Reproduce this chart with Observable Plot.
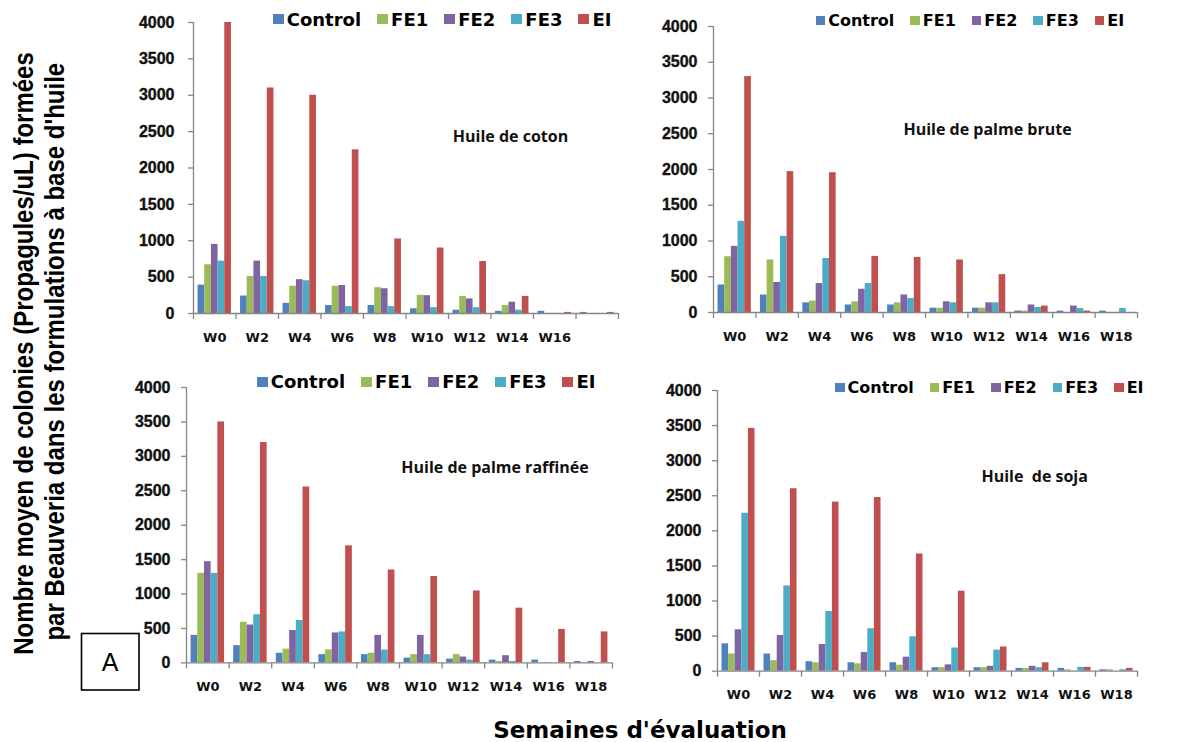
<!DOCTYPE html>
<html lang="fr">
<head>
<meta charset="utf-8">
<script src="https://cdn.jsdelivr.net/npm/d3@7"></script>
<script src="https://cdn.jsdelivr.net/npm/@observablehq/plot@0.6"></script>
<style>
  html, body { margin: 0; padding: 0; background: #fff; }
  #chart { position: relative; width: 1201px; height: 742px; overflow: hidden; background: #fff; }
  #chart svg { position: absolute; }
  .legend { position: absolute; display: flex; align-items: center; gap: 16px;
            font-family: "DejaVu Sans", sans-serif; font-weight: bold; color: #000; white-space: nowrap; }
  .legend .item { display: flex; align-items: center; }
  .legend .swatch { display: inline-block; margin-right: 3px; }
  .note { position: absolute; transform: translate(-50%, -50%); font-family: "Open Sans", sans-serif;
          font-weight: bold; font-size: 16px; color: #111; white-space: pre; }
</style>
</head>
<body>
<div id="chart"></div>
<script>
// Weeks of evaluation and formulations
const weeks = ["W0", "W2", "W4", "W6", "W8", "W10", "W12", "W14", "W16", "W18"];
const series = ["Control", "FE1", "FE2", "FE3", "EI"];
const colors = ["#4F81BD", "#9BBB59", "#8064A2", "#4BACC6", "#C0504D"];
const yTicks = [0, 500, 1000, 1500, 2000, 2500, 3000, 3500, 4000];

// Tick labels shown under each panel
const labelsCoton = ["W0", "W2", "W4", "W6", "W8", "W10", "W12", "W14", "W16", ""];
const labelsFull = ["W0", "W2", "W4", "W6", "W8", "W10", "W12", "W14", "W16", "W18"];

// Huile de coton
const cotonControl = [390, 240, 140, 110, 110, 65, 45, 30, 30, 15];
const cotonFE1 = [670, 510, 375, 375, 355, 250, 235, 110, 0, 0];
const cotonFE2 = [950, 720, 465, 385, 340, 245, 200, 155, 0, 0];
const cotonFE3 = [720, 510, 450, 95, 95, 80, 80, 45, 0, 0];
const cotonEI = [4000, 3100, 3000, 2250, 1025, 900, 715, 235, 15, 15];

// Huile de palme brute
const bruteControl = [385, 245, 135, 105, 105, 60, 60, 20, 20, 20];
const bruteFE1 = [780, 735, 160, 150, 135, 60, 60, 20, 0, 0];
const bruteFE2 = [925, 420, 405, 325, 245, 150, 135, 105, 90, 0];
const bruteFE3 = [1275, 1065, 755, 405, 195, 135, 135, 70, 55, 55];
const bruteEI = [3300, 1970, 1955, 785, 770, 735, 530, 90, 20, 0];

// Huile de palme raffinée
const raffControl = [400, 250, 140, 120, 120, 70, 55, 40, 40, 20];
const raffFE1 = [1300, 590, 200, 190, 140, 120, 120, 20, 0, 0];
const raffFE2 = [1470, 550, 470, 435, 400, 400, 85, 105, 0, 20];
const raffFE3 = [1300, 700, 615, 450, 185, 120, 40, 20, 0, 0];
const raffEI = [3500, 3200, 2555, 1700, 1350, 1255, 1045, 795, 485, 450];

// Huile de soja
const sojaControl = [390, 245, 135, 120, 120, 50, 50, 40, 40, 20];
const sojaFE1 = [245, 150, 120, 105, 85, 50, 50, 40, 20, 20];
const sojaFE2 = [590, 510, 380, 265, 200, 90, 70, 70, 0, 0];
const sojaFE3 = [2250, 1215, 850, 605, 490, 330, 300, 50, 55, 20];
const sojaEI = [3460, 2600, 2410, 2475, 1670, 1140, 345, 120, 55, 40];

const axisColor = "#868686";
const textColor = "#111";

const panels = [
  { title: "Huile de coton", values: [cotonControl, cotonFE1, cotonFE2, cotonFE3, cotonEI], labels: labelsCoton,
    frame: { left: 193, right: 618, top: 22.3, bottom: 313.3 }, tickPadding: 14,
    legend: { x: 272.7, y: 19, size: 18, sq: 11 }, note: { x: 510.5, y: 136 } },
  { title: "Huile de palme brute", values: [bruteControl, bruteFE1, bruteFE2, bruteFE3, bruteEI], labels: labelsFull,
    frame: { left: 712.7, right: 1136.7, top: 25.7, bottom: 311.7 }, tickPadding: 11,
    legend: { x: 815.7, y: 20.7, size: 16, sq: 9.5 }, note: { x: 987.5, y: 129 } },
  { title: "Huile de palme raffinée", values: [raffControl, raffFE1, raffFE2, raffFE3, raffEI], labels: labelsFull,
    frame: { left: 185.7, right: 611.7, top: 387.3, bottom: 662.7 }, tickPadding: 11,
    legend: { x: 256.7, y: 381.7, size: 18, sq: 11 }, note: { x: 495, y: 466.7 } },
  { title: "Huile  de soja", values: [sojaControl, sojaFE1, sojaFE2, sojaFE3, sojaEI], labels: labelsFull,
    frame: { left: 716.7, right: 1136.7, top: 390, bottom: 670.7 }, tickPadding: 11,
    legend: { x: 835, y: 387.7, size: 16, sq: 9.5 }, note: { x: 1034.7, y: 475.7 } }
];

const chart = document.getElementById("chart");
const mL = 75, mR = 8, mT = 22, mB = 32;

for (const p of panels) {
  const f = p.frame;
  const plotW = f.right - f.left;
  const B = plotW / weeks.length;                 // width of one week band
  const pad = 0.107 * B;                          // gap on each side of a bar group
  const w = (B - 2 * pad) / series.length;        // width of one bar
  const rows = weeks.map((wk, j) => {
    const r = { week: wk };
    series.forEach((s, i) => (r[s] = p.values[i][j]));
    return r;
  });

  const svg = Plot.plot({
    width: plotW + mL + mR,
    height: f.bottom - f.top + mT + mB,
    marginLeft: mL, marginRight: mR, marginTop: mT, marginBottom: mB,
    style: { background: "transparent", overflow: "visible" },
    x: { domain: weeks, padding: 0, round: false, label: null, axis: null },
    y: { domain: [0, 4000], label: null, axis: null },
    marks: [
      ...series.map((s, i) => Plot.barY(rows, {
        x: "week", y: s, fill: colors[i],
        insetLeft: pad + i * w, insetRight: B - pad - (i + 1) * w
      })),
      // value axis line and its outward ticks
      Plot.ruleX([weeks[0]], { x: d => d, dx: -B / 2, y1: 0, y2: 4000, stroke: axisColor, strokeWidth: 1.3 }),
      Plot.ruleY(yTicks, { y: d => d, insetLeft: -5, insetRight: plotW, stroke: axisColor, strokeWidth: 1.3 }),
      Plot.text(yTicks, {
        y: d => d, text: d => String(d), frameAnchor: "left", textAnchor: "end", dx: -(5 + p.tickPadding),
        fontFamily: "Liberation Sans", fontSize: 16, fontWeight: "bold", fill: textColor,
        stroke: textColor, strokeWidth: 0.35
      }),
      // category axis line
      Plot.ruleY([0], { stroke: axisColor, strokeWidth: 1.3 }),
      // tick marks between week groups
      Plot.ruleX(weeks, { x: d => d, dx: -B / 2, y1: 0, y2: 0, insetBottom: -6, stroke: axisColor, strokeWidth: 1.3 }),
      Plot.ruleX([weeks[weeks.length - 1]], { x: d => d, dx: B / 2, y1: 0, y2: 0, insetBottom: -6, stroke: axisColor, strokeWidth: 1.3 }),
      // week labels
      Plot.text(weeks, {
        x: d => d, y: 0, text: d => p.labels[weeks.indexOf(d)], dy: 24, lineAnchor: "middle",
        fontFamily: "DejaVu Sans", fontSize: 13, fontWeight: "bold", fill: textColor
      })
    ]
  });
  svg.style.left = (f.left - mL) + "px";
  svg.style.top = (f.top - mT) + "px";
  chart.appendChild(svg);

  // legend
  const lg = document.createElement("div");
  lg.className = "legend";
  lg.style.left = p.legend.x + "px";
  lg.style.top = (p.legend.y - p.legend.size / 2) + "px";
  lg.style.height = p.legend.size + "px";
  lg.style.fontSize = p.legend.size + "px";
  series.forEach((s, i) => {
    const it = document.createElement("span");
    it.className = "item";
    const sw = document.createElement("span");
    sw.className = "swatch";
    sw.style.width = p.legend.sq + "px";
    sw.style.height = (p.legend.sq - 1) + "px";
    sw.style.background = colors[i];
    const tx = document.createElement("span");
    tx.textContent = s;
    it.appendChild(sw);
    it.appendChild(tx);
    lg.appendChild(it);
  });
  chart.appendChild(lg);

  // oil name inside the panel
  const nt = document.createElement("div");
  nt.className = "note";
  nt.style.left = p.note.x + "px";
  nt.style.top = p.note.y + "px";
  nt.textContent = p.title;
  chart.appendChild(nt);
}

// Shared axis titles and panel tag
const overlay = d3.select(chart).append("svg")
  .attr("width", 1201).attr("height", 742)
  .style("left", "0px").style("top", "0px").style("pointer-events", "none");

const yTitle = ["Nombre moyen de colonies (Propagules/uL) formées",
                "par Beauveria dans les formulations à base d'huile"];
const yTitlePos = [{ x: 33.3, y: 353.5 }, { x: 63.5, y: 351.7 }];
yTitle.forEach((t, i) => {
  overlay.append("text")
    .attr("transform", `translate(${yTitlePos[i].x},${yTitlePos[i].y}) rotate(-90) scale(1,1.17)`)
    .attr("text-anchor", "middle")
    .attr("font-family", "Liberation Sans").attr("font-weight", "bold").attr("font-size", 24)
    .attr("fill", "#000")
    .text(t);
});

overlay.append("text")
  .attr("x", 640).attr("y", 737.5)
  .attr("text-anchor", "middle")
  .attr("font-family", "DejaVu Sans").attr("font-weight", "bold").attr("font-size", 23)
  .attr("fill", "#000")
  .text("Semaines d'évaluation");

overlay.append("rect")
  .attr("x", 81.5).attr("y", 633.5).attr("width", 57.5).attr("height", 56.5)
  .attr("fill", "#fff").attr("stroke", "#000").attr("stroke-width", 1.6);
overlay.append("text")
  .attr("x", 110).attr("y", 671)
  .attr("text-anchor", "middle")
  .attr("font-family", "Liberation Sans").attr("font-size", 25)
  .attr("fill", "#000")
  .text("A");
</script>
</body>
</html>
